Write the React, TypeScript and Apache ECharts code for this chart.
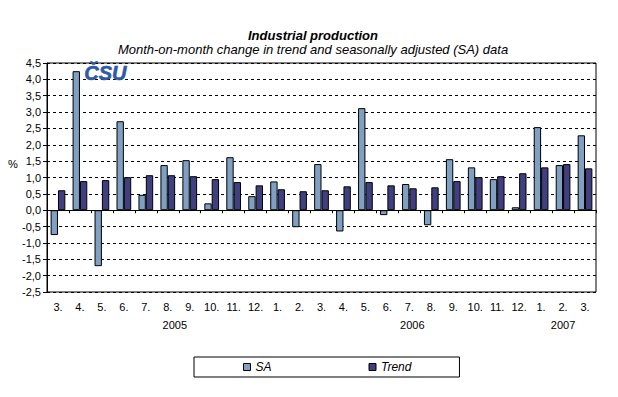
import React, { useEffect, useRef } from "react";
import * as echarts from "echarts";

const months = ["3.", "4.", "5.", "6.", "7.", "8.", "9.", "10.", "11.", "12.", "1.", "2.", "3.", "4.", "5.", "6.", "7.", "8.", "9.", "10.", "11.", "12.", "1.", "2.", "3."];
const yearLabels = ["", "", "", "", "", "2005", "", "", "", "", "", "", "", "", "", "", "2006", "", "", "", "", "", "", "2007", ""];
const saValues = [-0.76, 4.25, -1.71, 2.72, 0.47, 1.38, 1.53, 0.21, 1.62, 0.43, 0.88, -0.52, 1.41, -0.65, 3.12, -0.15, 0.8, -0.46, 1.56, 1.31, 0.95, 0.09, 2.54, 1.38, 2.29];
const trendValues = [0.61, 0.89, 0.92, 1.01, 1.07, 1.07, 1.04, 0.95, 0.86, 0.76, 0.64, 0.58, 0.61, 0.73, 0.86, 0.76, 0.67, 0.7, 0.89, 1.01, 1.04, 1.13, 1.31, 1.41, 1.28];
const seriesNames = ["SA", "Trend"];

const FONT = "'Liberation Sans', Arial, sans-serif";

export default function App() {
  const ref = useRef<HTMLDivElement>(null);
  useEffect(() => {
    if (!ref.current) return;
    const chart = echarts.init(ref.current, null, { renderer: "svg" });
    chart.setOption({
      animation: false,
      backgroundColor: "#ffffff",
      textStyle: { fontFamily: FONT },
      title: {
        text: "Industrial production",
        subtext: "Month-on-month change in trend and seasonally adjusted (SA) data",
        left: 308,
        textAlign: "center",
        top: 24,
        itemGap: 1,
        textStyle: { fontFamily: FONT, fontSize: 13, fontWeight: "bold", fontStyle: "italic", color: "#000" },
        subtextStyle: { fontFamily: FONT, fontSize: 13, fontStyle: "italic", color: "#000" },
      },
      legend: {
        data: seriesNames,
        left: 194,
        top: 357,
        orient: "horizontal",
        borderColor: "#000",
        borderWidth: 1,
        padding: [4, 48, 4, 49],
        itemGap: 97,
        itemWidth: 7,
        itemHeight: 7,
        icon: "rect",
        itemStyle: { borderColor: "#000", borderWidth: 1 },
        textStyle: { fontFamily: FONT, fontSize: 12, fontStyle: "italic", color: "#000" },
      },
      grid: {
        left: 47,
        right: 22,
        top: 63,
        bottom: 105,
        show: true,
        borderColor: "#000",
        borderWidth: 1,
        backgroundColor: "transparent",
      },
      xAxis: [
        {
          type: "category",
          data: months,
          position: "bottom",
          axisLine: { onZero: true, lineStyle: { color: "#000", width: 1 } },
          axisTick: { show: true, length: 3, lineStyle: { color: "#000" } },
          axisLabel: { show: false },
          z: 10,
        },
        {
          type: "category",
          data: months,
          position: "bottom",
          axisLine: { show: false, onZero: false },
          axisTick: { show: false },
          axisLabel: { show: true, margin: 9, fontFamily: FONT, fontSize: 11, color: "#000", interval: 0 },
        },
        {
          type: "category",
          data: yearLabels,
          position: "bottom",
          axisLine: { show: false, onZero: false },
          axisTick: { show: false },
          axisLabel: {
            show: true,
            margin: 27,
            interval: 0,
            fontFamily: FONT,
            fontSize: 11,
            color: "#000",
            formatter: (v: string) => (v === "2005" ? "{a|" + v + "}" : v === "2006" ? "{b|" + v + "}" : v),
            rich: {
              a: { fontFamily: FONT, fontSize: 11, color: "#000", padding: [0, 0, 0, 14] },
              b: { fontFamily: FONT, fontSize: 11, color: "#000", padding: [0, 0, 0, 6] },
            },
          },
        },
      ],
      yAxis: {
        type: "value",
        min: -2.5,
        max: 4.5,
        interval: 0.5,
        axisLine: { show: true, lineStyle: { color: "#000" } },
        axisTick: { show: true, length: 4, lineStyle: { color: "#000" } },
        axisLabel: {
          margin: 6,
          fontFamily: FONT,
          fontSize: 11,
          color: "#000",
          formatter: (v: number) => v.toFixed(1).replace(".", ","),
        },
        splitLine: { show: true, lineStyle: { color: "#000", type: [3, 3], width: 1 } },
      },
      graphic: [
        {
          type: "text",
          left: 8,
          top: 158,
          style: { text: "%", fontFamily: FONT, fontSize: 11, fill: "#000" },
        },
        {
          type: "text",
          left: 84,
          top: 63,
          z: 20,
          style: {
            text: "ČSU",
            fontFamily: FONT,
            fontSize: 20,
            fontWeight: "bold",
            fontStyle: "italic",
            fill: "#2d5aa6",
            stroke: "#1b3f80",
            lineWidth: 0.5,
          },
        },
      ],
      series: [
        {
          name: seriesNames[0],
          type: "bar",
          data: saValues,
          xAxisIndex: 0,
          barGap: "0%",
          barCategoryGap: "33%",
          itemStyle: { color: "#7fa0c3", borderColor: "#000", borderWidth: 1 },
        },
        {
          name: seriesNames[1],
          type: "bar",
          data: trendValues,
          xAxisIndex: 0,
          barGap: "0%",
          barCategoryGap: "33%",
          itemStyle: { color: "#403f80", borderColor: "#000", borderWidth: 1 },
        },
      ],
    });
    return () => chart.dispose();
  }, []);
  return <div ref={ref} style={{ position: "fixed", left: 0, top: 0, width: 618, height: 397, background: "#fff" }} />;
}
